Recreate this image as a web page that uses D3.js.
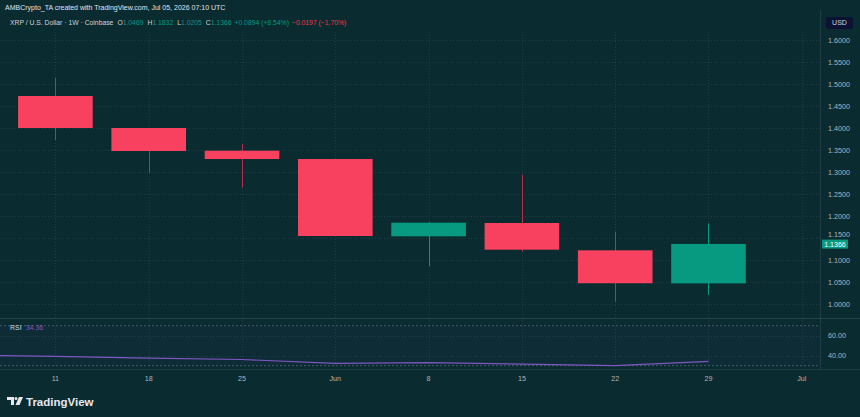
<!DOCTYPE html>
<html><head><meta charset="utf-8">
<script src="https://cdn.jsdelivr.net/npm/d3@7/dist/d3.min.js"></script>
<style>
html,body{margin:0;padding:0;background:#0a2b30;}
svg{display:block;}
text{font-family:"Liberation Sans",Arial,sans-serif;}
</style></head>
<body>
<svg id="c" width="860" height="417"></svg>
<script>
// ---- data ----
const weekLabels = ["11","18","25","Jun","8","15","22","29","Jul"];
const opens  = [1.4727, 1.4000, 1.3484, 1.3295, 1.1538, 1.1841, 1.1220, 1.0469];
const highs  = [1.5140, 1.4000, 1.3636, 1.3295, 1.1855, 1.2932, 1.1644, 1.1832];
const lows   = [1.3727, 1.2985, 1.2652, 1.1545, 1.0864, 1.1190, 1.0053, 1.0205];
const closes = [1.4000, 1.3477, 1.3295, 1.1545, 1.1848, 1.1234, 1.0472, 1.1366];
const rsiIndex  = [-1, 0, 1, 2, 3, 4, 5, 6, 7];
const rsiValues = [40.6, 39.3, 37.6, 36.2, 32.4, 33.1, 31.6, 30.1, 34.36];
const priceTicks = [1.00,1.05,1.10,1.15,1.20,1.25,1.30,1.35,1.40,1.45,1.50,1.55,1.60];
const rsiTicks = [60, 40];
const lastPrice = 1.1366;

const W = 860, H = 417;
const paneRight = 820;
const svg = d3.select("#c");

const BG = "#0a2b30";
const UP = "#089981", DOWN = "#f7415e";
const TXT = "#b2b5be";
const GRID = "rgba(110,130,165,0.22)";

svg.append("rect").attr("width",W).attr("height",H).attr("fill",BG);

// scales
const x = d3.scaleLinear().domain([0, 8]).range([55.4, 801.8]);
const step = x(1) - x(0);
const bodyW = step * 0.8;
const y = d3.scaleLinear().domain([1.0, 1.6]).range([304, 40]);
const yR = d3.scaleLinear().domain([30, 70]).range([365.7, 325.7]);

// clip
svg.append("clipPath").attr("id","pane").append("rect")
  .attr("x",0).attr("y",32).attr("width",paneRight).attr("height",286);
svg.append("clipPath").attr("id","rpane").append("rect")
  .attr("x",0).attr("y",319).attr("width",paneRight).attr("height",50);

// grid: horizontal
const g = svg.append("g");
g.selectAll("line.hg").data(priceTicks).join("line")
  .attr("x1",0).attr("x2",paneRight)
  .attr("y1",d=>Math.round(y(d))+0.5).attr("y2",d=>Math.round(y(d))+0.5)
  .attr("stroke",GRID).attr("stroke-dasharray","1,2");
// grid: vertical
g.selectAll("line.vg").data(weekLabels).join("line")
  .attr("x1",(d,i)=>Math.round(x(i))+0.5).attr("x2",(d,i)=>Math.round(x(i))+0.5)
  .attr("y1",32).attr("y2",368)
  .attr("stroke",GRID).attr("stroke-dasharray","1,2");

// candles
const idx = d3.range(opens.length);
const cg = svg.append("g").attr("clip-path","url(#pane)");
cg.selectAll("line.wick").data(idx).join("line")
  .attr("x1",i=>Math.round(x(i))+0.5).attr("x2",i=>Math.round(x(i))+0.5)
  .attr("y1",i=>y(highs[i])).attr("y2",i=>y(lows[i]))
  .attr("stroke",i=>closes[i]>=opens[i]?UP:"#b8304e").attr("stroke-width",1);
cg.selectAll("rect.body").data(idx).join("rect")
  .attr("x",i=>x(i)-bodyW/2).attr("width",bodyW)
  .attr("y",i=>y(Math.max(opens[i],closes[i])))
  .attr("height",i=>Math.max(1, Math.abs(y(opens[i])-y(closes[i]))))
  .attr("fill",i=>closes[i]>=opens[i]?UP:DOWN);

// price axis labels
const pa = svg.append("g");
pa.selectAll("text").data(priceTicks).join("text")
  .attr("x",828).attr("y",d=>y(d) - (Math.abs(d-1.15)<1e-9 ? 3.2 : 0)).attr("dy","0.35em")
  .attr("font-size",7.2).attr("fill",TXT)
  .text(d=>d3.format(".4f")(d));
// USD box
pa.append("rect").attr("x",826).attr("y",17).attr("width",27).attr("height",12)
  .attr("rx",2).attr("fill","#0b1233");
pa.append("text").attr("x",839.5).attr("y",23).attr("dy","0.35em").attr("text-anchor","middle")
  .attr("font-size",7).attr("fill","#d1d4dc").text("USD");
// last price box
pa.append("rect").attr("x",822).attr("y",y(lastPrice)-4.3).attr("width",26).attr("height",9)
  .attr("fill",UP);
pa.append("text").attr("x",835).attr("y",y(lastPrice)+0.3).attr("dy","0.35em").attr("text-anchor","middle")
  .attr("font-size",7).attr("fill","#ffffff").text(d3.format(".4f")(lastPrice));

// RSI pane
const rg = svg.append("g");
rg.append("rect").attr("x",0).attr("width",paneRight)
  .attr("y",yR(70)).attr("height",yR(30)-yR(70))
  .attr("fill","rgba(126,87,194,0.04)");
rg.selectAll("line.band").data([70,30]).join("line")
  .attr("x1",0).attr("x2",paneRight)
  .attr("y1",d=>yR(d)).attr("y2",d=>yR(d))
  .attr("stroke","rgba(150,160,190,0.4)").attr("stroke-dasharray","2,2");
rg.selectAll("line.rg").data(rsiTicks).join("line")
  .attr("x1",0).attr("x2",paneRight)
  .attr("y1",d=>Math.round(yR(d))+0.5).attr("y2",d=>Math.round(yR(d))+0.5)
  .attr("stroke",GRID).attr("stroke-dasharray","1,2");
const rsiLine = d3.line().x((d,i)=>x(rsiIndex[i])).y(d=>yR(d));
rg.append("path").attr("clip-path","url(#rpane)")
  .attr("d",rsiLine(rsiValues)).attr("fill","none")
  .attr("stroke","#7e57c2").attr("stroke-width",1.2);
rg.selectAll("text.rt").data(rsiTicks).join("text")
  .attr("x",828).attr("y",d=>yR(d)).attr("dy","0.35em")
  .attr("font-size",7.2).attr("fill",TXT).text(d=>d3.format(".2f")(d));
const rl = rg.append("text").attr("x",10).attr("y",328).attr("dy","0.35em").attr("font-size",7);
rl.append("tspan").attr("fill","#d1d4dc").text("RSI");
rl.append("tspan").attr("fill","#7e57c2").attr("dx",4).text(d3.format(".2f")(rsiValues[rsiValues.length-1]));

// separators
svg.append("line").attr("x1",0).attr("x2",W).attr("y1",318.5).attr("y2",318.5)
  .attr("stroke","rgba(120,135,160,0.25)");
svg.append("line").attr("x1",paneRight+0.5).attr("x2",paneRight+0.5).attr("y1",10).attr("y2",369)
  .attr("stroke","rgba(120,135,160,0.2)");
svg.append("line").attr("x1",0).attr("x2",W).attr("y1",369.5).attr("y2",369.5)
  .attr("stroke","rgba(120,135,160,0.2)");

// time axis
svg.append("g").selectAll("text").data(weekLabels).join("text")
  .attr("x",(d,i)=>x(i)).attr("y",378).attr("dy","0.35em").attr("text-anchor","middle")
  .attr("font-size",7.2).attr("fill",TXT).text(d=>d);

// header
svg.append("text").attr("x",5).attr("y",7.5).attr("dy","0.35em")
  .attr("font-size",7).attr("fill","#e0e3eb")
  .text("AMBCrypto_TA created with TradingView.com, Jul 05, 2026 07:10 UTC");
const f4 = d3.format(".4f");
const chg = closes[7] - closes[6];
const lg = svg.append("text").attr("x",10).attr("y",23).attr("dy","0.35em").attr("font-size",6.8);
lg.append("tspan").attr("fill","#d1d4dc").text("XRP / U.S. Dollar · 1W · Coinbase");
[["O",opens[7]],["H",highs[7]],["L",lows[7]],["C",closes[7]]].forEach(([k,v])=>{
  lg.append("tspan").attr("fill","#d1d4dc").attr("dx",4).text(k);
  lg.append("tspan").attr("fill",UP).text(f4(v));
});
lg.append("tspan").attr("fill",UP).attr("dx",3)
  .text("+" + f4(chg) + " (+" + d3.format(".2f")(chg/closes[6]*100) + "%)");
lg.append("tspan").attr("fill","#f23645").attr("dx",3).text("\u22120.0197 (\u22121.70%)");

// TradingView logo
const logo = svg.append("g").attr("transform","translate(7,397)");
logo.append("path").attr("d","M0 0 H7 V8 H4 V3 H0 Z").attr("fill","#e6e8ee");
logo.append("circle").attr("cx",9).attr("cy",1.5).attr("r",1.5).attr("fill","#e6e8ee");
logo.append("path").attr("d","M12 0 H16 L12.5 8 H8.5 Z").attr("fill","#e6e8ee");
svg.append("text").attr("x",26).attr("y",401.5).attr("dy","0.35em")
  .attr("font-size",11.5).attr("font-weight","bold").attr("fill","#e6e8ee")
  .attr("font-family","'Open Sans',sans-serif").text("TradingView");
</script>
</body></html>
